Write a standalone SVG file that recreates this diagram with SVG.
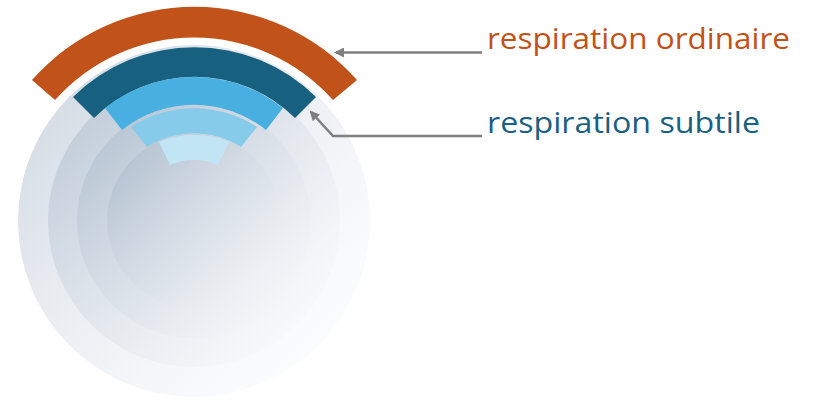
<svg xmlns="http://www.w3.org/2000/svg" width="839" height="408" viewBox="0 0 839 408">
<defs>
<linearGradient id="g" x1="0" y1="0" x2="1" y2="1">
<stop offset="0" stop-color="#9fb0c4" stop-opacity="0.55"/>
<stop offset="1" stop-color="#ffffff" stop-opacity="0.2"/>
</linearGradient>
<marker id="ah" viewBox="0 0 10 10" refX="8" refY="5" markerWidth="4" markerHeight="4" orient="auto-start-reverse"><path d="M0,0L10,5L0,10z" fill="#7f7f7f"/></marker>
<style>
.c{fill:url(#g)}
.l{fill:none;stroke:#7f7f7f;stroke-width:2.5}
.t{font-family:"Open Sans","Liberation Sans",sans-serif;font-size:30px}
</style>
</defs>
<rect width="839" height="408" fill="#fff"/>
<g id="circles">
<circle class="c" cx="194" cy="221" r="176"/>
<circle class="c" cx="194" cy="221" r="146"/>
<circle class="c" cx="194" cy="221" r="117"/>
<circle class="c" cx="194" cy="221" r="87"/>
</g>
<g id="arc-ordinaire"><path d="M32,80 A217,217 0 0 1 357,80 L333,100 A186,186 0 0 0 55,100 Z" fill="#c0521a"/></g>
<g id="arc-subtile"><path d="M73,97 A173,173 0 0 1 316,97 L295,118 A143,143 0 0 0 94,118 Z" fill="#17607f"/></g>
<g id="arc-2"><path d="M105,108 A143,143 0 0 1 283,108 L266,130 A115,115 0 0 0 122,130 Z" fill="#47b0e0"/></g>
<g id="arc-3"><path d="M131,127 A115,115 0 0 1 257,127 L241,147 A87,87 0 0 0 147,147 Z" fill="#86cbea"/></g>
<g id="arc-4"><path d="M159,142 A87,87 0 0 1 229,142 L218,165 A60,60 0 0 0 170,165 Z" fill="#c2e5f5"/></g>
<g id="connectors">
<path class="l" d="M482,52.5 L336,52.5" marker-end="url(#ah)"/>
<path class="l" d="M482,136 L333,136 L311,112" marker-end="url(#ah)"/>
</g>
<g id="label-ordinaire"><text class="t" x="487" y="49" fill="#c0521a" textLength="303" lengthAdjust="spacingAndGlyphs">respiration ordinaire</text></g>
<g id="label-subtile"><text class="t" x="487" y="133" fill="#1a6082" textLength="273" lengthAdjust="spacingAndGlyphs">respiration subtile</text></g>
</svg>
